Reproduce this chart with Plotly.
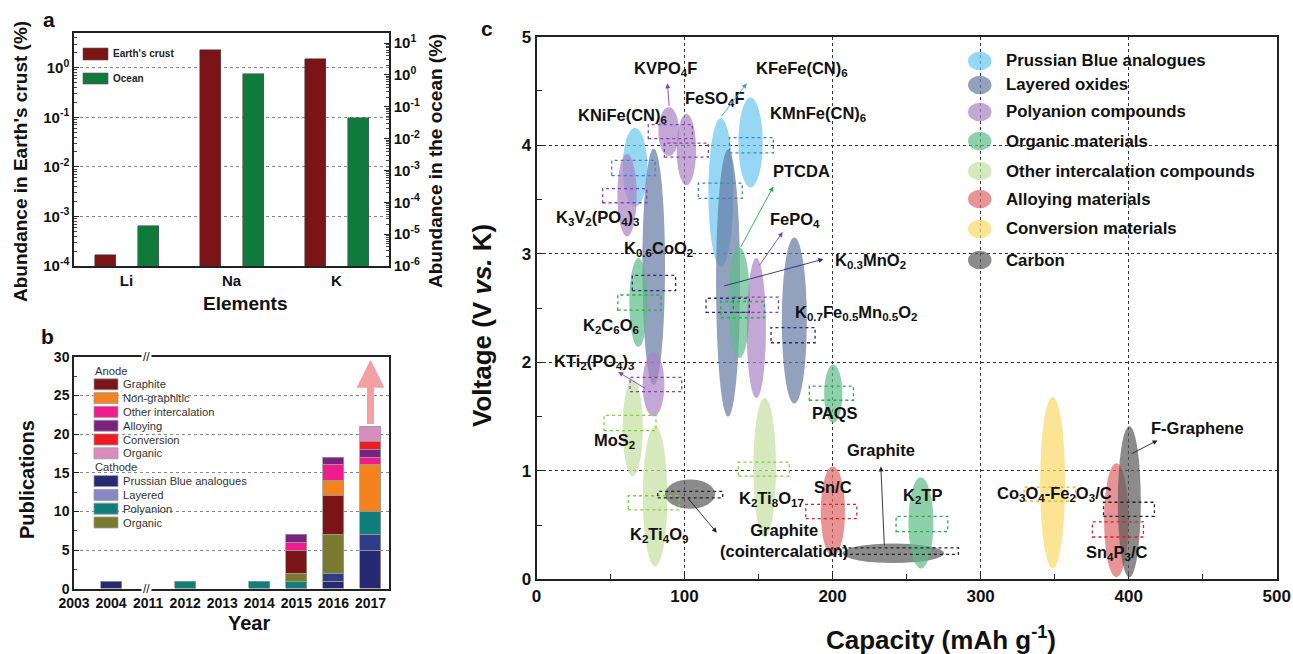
import math
import plotly.graph_objects as go

# ---------------- DATA ----------------
# Panel a: abundance (%)
elements = ["Li", "Na", "K"]
crust_abund = [1.7e-4, 2.3, 1.5]
ocean_abund = [1.8e-5, 1.1, 0.044]

# Panel b: publications per year (stacked)
years = ["2003", "2004", "2011", "2012", "2013", "2014", "2015", "2016", "2017"]
pub_prussian = [0, 1, 0, 0, 0, 0, 0, 1, 5]
pub_layered = [0, 0, 0, 0, 0, 0, 0, 1, 2]
pub_polyanion = [0, 0, 0, 1, 0, 1, 1, 0, 3]
pub_organic_cath = [0, 0, 0, 0, 0, 0, 1, 5, 0]
pub_graphite = [0, 0, 0, 0, 0, 0, 3, 5, 0]
pub_nongraphitic = [0, 0, 0, 0, 0, 0, 0, 2, 6]
pub_other_inter = [0, 0, 0, 0, 0, 0, 1, 2, 1]
pub_alloying = [0, 0, 0, 0, 0, 0, 1, 1, 1]
pub_conversion = [0, 0, 0, 0, 0, 0, 0, 0, 1]
pub_organic_anode = [0, 0, 0, 0, 0, 0, 0, 0, 2]

# Panel c: capacity / voltage ranges of electrode materials
materials = ["KNiFe(CN)6", "K3V2(PO4)3", "K0.6CoO2", "KVPO4F", "FeSO4F", "KFeFe(CN)6",
             "KMnFe(CN)6", "K0.3MnO2", "PTCDA", "FePO4", "K0.7Fe0.5Mn0.5O2", "K2C6O6",
             "KTi2(PO4)3", "MoS2", "K2Ti4O9", "Graphite (cointercalation)", "K2Ti8O17",
             "PAQS", "Sn/C", "Graphite", "K2TP", "Co3O4-Fe2O3/C", "Sn4P3/C", "F-Graphene"]
mat_class = ["prussian", "polyanion", "layered", "polyanion", "polyanion", "prussian",
             "prussian", "layered", "organic", "polyanion", "layered", "organic",
             "polyanion", "other", "other", "carbon", "other",
             "organic", "alloying", "carbon", "organic", "conversion", "alloying", "carbon"]
cap_lo = [58.2, 54.6, 71.5, 82.3, 94.7, 116.1, 136.4, 121.3, 129.6, 142.0, 165.7, 62.7,
          71.7, 58.2, 71.8, 86.8, 146.5, 194.3, 192.0, 206.9, 251.2, 340.2, 383.4, 392.7]
cap_hi = [74.9, 67.7, 86.8, 96.3, 107.8, 133.0, 152.8, 137.5, 144.3, 155.0, 182.6, 74.9,
          86.4, 71.8, 88.4, 120.6, 161.8, 206.6, 208.4, 275.3, 268.1, 357.1, 399.9, 408.2]
volt_lo = [3.43, 3.16, 1.79, 3.90, 3.63, 2.88, 3.61, 1.50, 2.04, 1.67, 1.62, 2.14,
           1.50, 0.95, 0.12, 0.65, 0.39, 1.44, 0.21, 0.15, 0.10, 0.10, 0.02, 0.02]
volt_hi = [4.16, 3.92, 3.97, 4.35, 4.29, 4.25, 4.44, 3.96, 3.06, 2.96, 3.15, 2.96,
           2.09, 1.84, 1.41, 0.92, 1.67, 1.98, 1.04, 0.33, 0.94, 1.68, 1.07, 1.41]
# average-value boxes
avg_cap_lo = [50.8, 44.7, 64.7, 75.5, 86.4, 109.3, 130.3, 114.5, 124.5, 133.0, 158.4, 54.9,
              63.2, 45.6, 62.0, 81.9, 136.4, 184.3, 181.9, 199.5, 242.9, 329.4, 375.5, 383.0]
avg_cap_hi = [80.1, 74.5, 94.0, 105.3, 116.1, 139.0, 160.0, 143.8, 153.9, 163.4, 188.2, 84.1,
              98.1, 80.7, 96.3, 125.8, 170.8, 214.1, 216.4, 285.0, 277.8, 364.3, 410.0, 417.4]
avg_volt_lo = [3.72, 3.47, 2.66, 4.06, 3.89, 3.51, 3.93, 2.46, 2.41, 2.46, 2.18, 2.48,
               1.73, 1.37, 0.64, 0.75, 0.95, 1.65, 0.56, 0.23, 0.44, 0.72, 0.39, 0.58]
avg_volt_hi = [3.86, 3.60, 2.80, 4.19, 4.02, 3.65, 4.07, 2.59, 2.56, 2.60, 2.32, 2.62,
               1.86, 1.51, 0.77, 0.81, 1.08, 1.78, 0.69, 0.29, 0.58, 0.85, 0.53, 0.71]

class_order = ["prussian", "layered", "polyanion", "organic", "other", "alloying", "conversion", "carbon"]
class_names = ["Prussian Blue analogues", "Layered oxides", "Polyanion compounds", "Organic materials",
               "Other intercalation compounds", "Alloying materials", "Conversion materials", "Carbon"]

# ---------------- STYLE ----------------
W, H = 1293, 654
FONT = "Arial, Liberation Sans, sans-serif"


def PX(px):
    return px / W


def PY(py):
    return 1 - py / H


fill_col = {"prussian": "#69c7ef", "layered": "#6279a2", "polyanion": "#a983c5", "organic": "#5fbc89",
            "other": "#c5e0a1", "alloying": "#de6666", "conversion": "#f9d966", "carbon": "#5a5a5a"}
box_col = {"prussian": "#3d7fd6", "layered": "#2a2a7a", "polyanion": "#8a3fb0", "organic": "#22b04a",
           "other": "#7cd13c", "alloying": "#e02020", "conversion": "#f5a623", "carbon": "#222222"}
ELL_OP = 0.7

crust_col, ocean_col = "#7b1416", "#0f7a3c"


def paper_text(px, py, text, size, bold=True, angle=0, xanchor="center", color="#111"):
    f = dict(family=FONT, size=size, color=color)
    if bold:
        f["weight"] = "bold"
    return dict(xref="paper", yref="paper", x=PX(px), y=PY(py), text=text, showarrow=False,
                xanchor=xanchor, yanchor="middle", textangle=angle, font=f)


fig = go.Figure()

# ---------- Panel a ----------
fig.add_trace(go.Bar(x=elements, y=crust_abund, xaxis="x", yaxis="y", offset=-0.3, width=0.2,
                     marker=dict(color=crust_col, line=dict(color="#555", width=0.6)), showlegend=False))
fig.add_trace(go.Bar(x=elements, y=ocean_abund, xaxis="x", yaxis="y2", offset=0.105, width=0.2,
                     marker=dict(color=ocean_col, line=dict(color="#555", width=0.6)), showlegend=False))

# ---------- Panel b ----------
xpos = list(range(len(years)))
b_series = [
    ("Prussian Blue analogues", pub_prussian, "#262a72"),
    ("Layered", pub_layered, "#2f3d88"),
    ("Polyanion", pub_polyanion, "#0e7f7a"),
    ("Organic", pub_organic_cath, "#7b7b30"),
    ("Graphite", pub_graphite, "#7b1416"),
    ("Non-graphitic", pub_nongraphitic, "#f4821f"),
    ("Other intercalation", pub_other_inter, "#ee1c8c"),
    ("Alloying", pub_alloying, "#7b2281"),
    ("Conversion", pub_conversion, "#ed1c24"),
    ("Organic", pub_organic_anode, "#d98cc0"),
]
for name, vals, col in b_series:
    fig.add_trace(go.Bar(x=xpos, y=[v if v else None for v in vals], xaxis="x2", yaxis="y3", width=0.57,
                         name=name, marker=dict(color=col, line=dict(color="#9a9a9a", width=0.8)),
                         showlegend=False))

# ---------- Panel c ----------
cx = [(a + b) / 2 for a, b in zip(cap_lo, cap_hi)]
cy = [(a + b) / 2 for a, b in zip(volt_lo, volt_hi)]
fig.add_trace(go.Scatter(x=cx, y=cy, xaxis="x3", yaxis="y4", mode="markers", text=materials,
                         marker=dict(opacity=0), showlegend=False, hoverinfo="text"))

shapes = []
for i in range(len(materials)):
    c = mat_class[i]
    shapes.append(dict(type="circle", xref="x3", yref="y4", x0=cap_lo[i], x1=cap_hi[i],
                       y0=volt_lo[i], y1=volt_hi[i], fillcolor=fill_col[c], opacity=ELL_OP,
                       line=dict(width=0), layer="above"))
for i in range(len(materials)):
    c = mat_class[i]
    shapes.append(dict(type="rect", xref="x3", yref="y4", x0=avg_cap_lo[i], x1=avg_cap_hi[i],
                       y0=avg_volt_lo[i], y1=avg_volt_hi[i], fillcolor="rgba(0,0,0,0)",
                       line=dict(color=box_col[c], width=1.3, dash="dot"), layer="above"))

annotations = []

# panel c legend
leg_rows = [61, 85, 112, 141, 171, 199, 229, 260]
for c, nm, ry in zip(class_order, class_names, leg_rows):
    shapes.append(dict(type="circle", xref="paper", yref="paper", x0=PX(968), x1=PX(991.5),
                       y0=PY(ry + 9.3), y1=PY(ry - 9.3), fillcolor=fill_col[c], opacity=ELL_OP,
                       line=dict(width=0)))
    annotations.append(paper_text(1004, ry, nm, 16.8, xanchor="left"))

# panel c labels (data coordinates)
labels_c = [
    ("KVPO<sub>4</sub>F", 86.8, 4.70), ("KFeFe(CN)<sub>6</sub>", 179.3, 4.70),
    ("FeSO<sub>4</sub>F", 120.6, 4.43), ("KNiFe(CN)<sub>6</sub>", 57.8, 4.27),
    ("KMnFe(CN)<sub>6</sub>", 190.2, 4.29), ("PTCDA", 179.3, 3.76), ("FePO<sub>4</sub>", 174.6, 3.31),
    ("K<sub>3</sub>V<sub>2</sub>(PO<sub>4</sub>)<sub>3</sub>", 40.9, 3.33),
    ("K<sub>0.6</sub>CoO<sub>2</sub>", 82.1, 3.04), ("K<sub>0.3</sub>MnO<sub>2</sub>", 225.3, 2.93),
    ("K<sub>2</sub>C<sub>6</sub>O<sub>6</sub>", 50.3, 2.33),
    ("K<sub>0.7</sub>Fe<sub>0.5</sub>Mn<sub>0.5</sub>O<sub>2</sub>", 215.8, 2.45),
    ("KTi<sub>2</sub>(PO<sub>4</sub>)<sub>3</sub>", 38.8, 2.00), ("PAQS", 201.6, 1.53),
    ("MoS<sub>2</sub>", 53.0, 1.27), ("Graphite", 232.7, 1.19), ("F-Graphene", 446.2, 1.39),
    ("Sn/C", 200.3, 0.85), ("K<sub>2</sub>TP", 260.4, 0.77),
    ("Co<sub>3</sub>O<sub>4</sub>-Fe<sub>2</sub>O<sub>3</sub>/C", 350.2, 0.79),
    ("K<sub>2</sub>Ti<sub>8</sub>O<sub>17</sub>", 158.4, 0.74), ("K<sub>2</sub>Ti<sub>4</sub>O<sub>9</sub>", 82.7, 0.41),
    ("Graphite<br>(cointercalation)", 167.2, 0.36), ("Sn<sub>4</sub>P<sub>3</sub>/C", 392.1, 0.24),
]
for t, x, y in labels_c:
    annotations.append(dict(xref="x3", yref="y4", x=x, y=y, text=t, showarrow=False,
                            xanchor="center", yanchor="middle",
                            font=dict(family=FONT, size=16.5, color="#111", weight="bold")))

arrows_c = [  # (head_x, head_y, tail_x, tail_y, color)
    (88.4, 4.57, 89.7, 4.35, "#8a3fb0"), (142.0, 4.57, 124.0, 4.25, "#3aa0e0"),
    (160.0, 3.62, 137.5, 3.05, "#22b04a"), (166.3, 3.20, 149.9, 2.88, "#8a3fb0"),
    (193.8, 2.95, 125.8, 2.70, "#2a2a7a"), (55.3, 1.91, 74.5, 1.75, "#8a3fb0"),
    (121.8, 0.43, 101.5, 0.76, "#222"), (232.6, 1.04, 235.0, 0.30, "#222"),
    (419.5, 1.28, 401.0, 1.15, "#222"),
]
for hx, hy, tx, ty, col in arrows_c:
    annotations.append(dict(xref="x3", yref="y4", axref="x3", ayref="y4", x=hx, y=hy, ax=tx, ay=ty,
                            text="", showarrow=True, arrowhead=2, arrowsize=1.1, arrowwidth=0.9,
                            arrowcolor=col))

# ---------- Panel a legend / titles ----------
shapes.append(dict(type="rect", xref="paper", yref="paper", x0=PX(83), x1=PX(108), y0=PY(60), y1=PY(48),
                   fillcolor=crust_col, line=dict(color="#555", width=0.6)))
shapes.append(dict(type="rect", xref="paper", yref="paper", x0=PX(83), x1=PX(108), y0=PY(84), y1=PY(73),
                   fillcolor=ocean_col, line=dict(color="#555", width=0.6)))
annotations += [
    paper_text(111, 54, "Earth's crust", 10, xanchor="left", color="#222"),
    paper_text(111, 78.5, "Ocean", 10, xanchor="left", color="#222"),
    paper_text(20, 162, "Abundance in Earth's crust (%)", 19, angle=-90),
    paper_text(435, 161, "Abundance in the ocean (%)", 19, angle=-90),
    paper_text(245, 303, "Elements", 19),
    paper_text(49, 19, "a", 21),
]

# ---------- Panel b legend / titles ----------
b_leg_anode = [("Graphite", "#7b1416"), ("Non-graphitic", "#f4821f"), ("Other intercalation", "#ee1c8c"),
               ("Alloying", "#7b2281"), ("Conversion", "#ed1c24"), ("Organic", "#d98cc0")]
b_leg_cath = [("Prussian Blue analogues", "#262a72"), ("Layered", "#8888c4"), ("Polyanion", "#0e7f7a"),
              ("Organic", "#7b7b30")]
annotations.append(paper_text(93, 370.7, "Anode", 11.2, bold=False, xanchor="left", color="#333"))
annotations.append(paper_text(93, 467.3, "Cathode", 11.2, bold=False, xanchor="left", color="#333"))
rows_y = [384.3, 398.1, 411.9, 425.7, 439.5, 453.3, 481.1, 494.9, 508.7, 522.5]
for (nm, col), ry in zip(b_leg_anode + b_leg_cath, rows_y):
    shapes.append(dict(type="rect", xref="paper", yref="paper", x0=PX(94), x1=PX(118),
                       y0=PY(ry + 5.5), y1=PY(ry - 5.5), fillcolor=col, line=dict(color="#9a9a9a", width=0.8)))
    annotations.append(paper_text(121, ry, nm, 11.2, bold=False, xanchor="left", color="#333"))
annotations += [
    paper_text(27, 480, "Publications", 20, angle=-90),
    paper_text(249, 623, "Year", 20),
    paper_text(47, 336, "b", 21),
    dict(xref="x2", yref="y3", x=1.95, y=30, text="//", showarrow=False, bgcolor="white",
         font=dict(family=FONT, size=12, color="#111")),
    dict(xref="x2", yref="y3", x=1.95, y=0, text="//", showarrow=False, bgcolor="white",
         font=dict(family=FONT, size=12, color="#111")),
    dict(xref="x2", yref="y3", axref="x2", ayref="y3", x=8, y=29.6, ax=8, ay=21.1, text="",
         showarrow=True, arrowhead=2, arrowsize=0.8, arrowwidth=7, arrowcolor="#f4a0a3"),
]

# ---------- Panel c titles ----------
annotations += [
    paper_text(482, 326, "Voltage (V <i>vs.</i> K)", 26, angle=-90),
    paper_text(941, 638, "Capacity (mAh g<sup>-1</sup>)", 26),
    paper_text(487, 28, "c", 21),
]

# ---------- Axes ----------
log_major_a = [10.0 ** p for p in range(-4, 1)]
log_minor_a = [k * 10.0 ** p for p in range(-5, 1) for k in range(2, 10)]
log_major_b = [10.0 ** p for p in range(-6, 2)]
log_minor_b = [k * 10.0 ** p for p in range(-7, 2) for k in range(2, 10)]


def pow_text(vals):
    return ["10<sup>%d</sup>" % int(round(math.log10(v))) for v in vals]


axfont_a = dict(family=FONT, size=15, color="#111", weight="bold")
grid_kw = dict(showgrid=True, gridcolor="#888", griddash="dot", gridwidth=1)

fig.update_layout(
    width=W, height=H, margin=dict(l=0, r=0, t=0, b=0, autoexpand=False), autosize=False,
    plot_bgcolor="white", paper_bgcolor="white", barmode="stack", bargap=0,
    font=dict(family=FONT, color="#111"),
    xaxis=dict(domain=[PX(74), PX(389)], anchor="y", type="category", range=[-0.5, 2.5],
               showline=True, mirror=True, linecolor="#222", linewidth=1.5, ticks="",
               tickfont=axfont_a, showgrid=False),
    yaxis=dict(domain=[PY(266), PY(33)], anchor="x", type="log", range=[-4, 0.70],
               tickmode="array", tickvals=log_major_a, ticktext=pow_text(log_major_a),
               ticks="inside", ticklen=5, tickcolor="#222", showline=True, linecolor="#222", linewidth=1.5,
               tickfont=axfont_a, zeroline=False,
               minor=dict(tickmode="array", tickvals=log_minor_a, ticks="inside", ticklen=3, tickcolor="#444",
                          showgrid=False),
               **grid_kw),
    yaxis2=dict(overlaying="y", side="right", anchor="x", type="log", range=[-6, 1.314],
                tickmode="array", tickvals=log_major_b, ticktext=pow_text(log_major_b),
                ticks="inside", ticklen=5, tickcolor="#222", showline=True, linecolor="#222", linewidth=1.5,
                tickfont=axfont_a, showgrid=False, zeroline=False,
                minor=dict(tickmode="array", tickvals=log_minor_b, ticks="inside", ticklen=3, tickcolor="#444",
                           showgrid=False)),
    xaxis2=dict(domain=[PX(74), PX(389)], anchor="y3", range=[0, 8.5], tickmode="array", tickvals=xpos,
                ticktext=years, showline=True, mirror=True, linecolor="#222", linewidth=1.5, ticks="",
                tickfont=dict(family=FONT, size=14, color="#111", weight="bold"), showgrid=False,
                zeroline=False),
    yaxis3=dict(domain=[PY(589), PY(356.7)], anchor="x2", range=[0, 30], dtick=5, ticks="inside",
                ticklen=5, tickcolor="#222", showline=True, mirror=True, linecolor="#222", linewidth=1.5,
                tickfont=dict(family=FONT, size=14, color="#111", weight="bold"), zeroline=False,
                minor=dict(dtick=2.5, ticks="inside", ticklen=3, tickcolor="#444", showgrid=False),
                **grid_kw),
    xaxis3=dict(domain=[PX(536.5), PX(1276.7)], anchor="y4", range=[0, 500], dtick=100, ticks="inside",
                ticklen=6, tickcolor="#222", showline=True, mirror=True, linecolor="#222", linewidth=2,
                tickfont=dict(family=FONT, size=17, color="#111", weight="bold"), zeroline=False,
                minor=dict(dtick=50, ticks="inside", ticklen=5, tickcolor="#222", showgrid=False),
                showgrid=True, gridcolor="#333", griddash="dot", gridwidth=1.2),
    yaxis4=dict(domain=[PY(579.3), PY(36.7)], anchor="x3", range=[0, 5], dtick=1, ticks="inside",
                ticklen=6, tickcolor="#222", showline=True, mirror=True, linecolor="#222", linewidth=2,
                tickfont=dict(family=FONT, size=17, color="#111", weight="bold"), zeroline=False,
                minor=dict(dtick=0.5, ticks="inside", ticklen=5, tickcolor="#222", showgrid=False),
                showgrid=True, gridcolor="#333", griddash="dot", gridwidth=1.2),
    shapes=shapes, annotations=annotations, showlegend=False,
)

fig.write_html("out.html", config={"displayModeBar": False})
with open("out.html", "r", encoding="utf-8") as f:
    html = f.read()
html = html.replace("<head>", "<head><style>html,body{margin:0;padding:0;overflow:hidden;}</style>", 1)
with open("out.html", "w", encoding="utf-8") as f:
    f.write(html)
